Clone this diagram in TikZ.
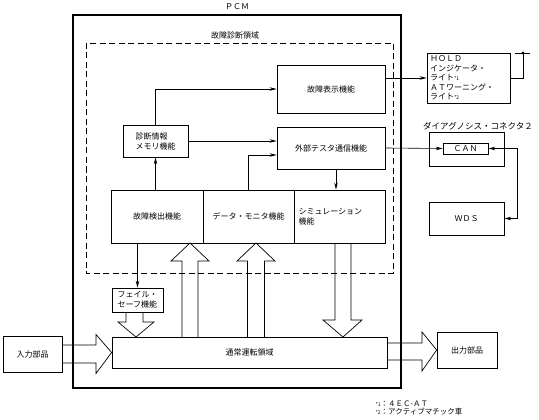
\documentclass[tikz,border=0pt]{standalone}
\usepackage{fontspec}
\setmainfont{Noto Sans CJK JP}
\usetikzlibrary{arrows.meta,calc}

\begin{document}
\begin{tikzpicture}[x=1pt,y=-1pt,
  font=\fontsize{8}{10}\selectfont,
  box/.style={draw,line width=0.7pt,inner sep=2pt},
  arr/.style={line width=0.6pt,-{Stealth[length=7pt,width=3.5pt]}},
  hollow/.style={draw,line width=0.7pt,line join=miter}]
  \useasboundingbox (0,0) rectangle (539,420);

  % PCM and the diagnosis area
  \draw[line width=1.1pt] (73,15) rectangle (401,388);
  \node (pcmlbl) at (237,7) {ＰＣＭ};
  \draw[line width=0.7pt,dash pattern=on 6pt off 3.5pt] (86,43) rectangle (393,273);
  \node (diaglbl) at (235,35) {故障診断領域};

  % function boxes
  \node[box,minimum width=108,minimum height=48] (disp) at (331,89) {故障表示機能};
  \node[box,minimum width=65,minimum height=32,align=left] (mem) at (155.5,141) {診断情報\\メモリ機能};
  \node[box,minimum width=108,minimum height=42] (ext) at (331,148) {外部テスタ通信機能};
  \node[box,minimum width=92,minimum height=53] (det) at (157,216.5) {故障検出機能};
  \node[box,minimum width=91,minimum height=53] (mon) at (248.5,216.5) {データ・モニタ機能};
  \node[box,minimum width=91,minimum height=53,text width=82,align=left] (sim) at (339.5,216.5) {シミュレーション\\機能};
  \node[box,minimum width=51,minimum height=24,align=left,inner sep=1.5pt] (fs) at (137.5,300) {フェイル・\\セーフ機能};
  \node[box,minimum width=275,minimum height=31] (norm) at (249.5,352.5) {通常運転領域};
  \node[box,minimum width=59,minimum height=36] (in) at (32.5,354) {入力部品};
  \node[box,minimum width=60,minimum height=36] (out) at (467,350) {出力部品};

  % outside the PCM
  \node[box,minimum width=83,minimum height=50,text width=77,align=left,inner sep=1.5pt,
        font=\fontsize{8}{9.5}\selectfont] (hold) at (468.5,78)
        {ＨＯＬＤ\\インジケータ・\\ライト{\tiny *1}\\ＡＴワーニング・\\ライト{\tiny *2}};
  \node[box,minimum width=75,minimum height=34] (conn) at (466.5,149) {};
  \node[font=\fontsize{8.5}{10}\selectfont] (connlbl) at (478,126) {ダイアグノシス・コネクタ２};
  \node[box,minimum width=45,minimum height=11,inner sep=0pt] (can) at (465.5,148.5) {ＣＡＮ};
  \node[box,minimum width=75,minimum height=33] (wds) at (466.5,218.5) {ＷＤＳ};
  \node[align=left,anchor=west,font=\fontsize{7.5}{8.5}\selectfont] (notes) at (372,408)
        {{\tiny *1}：４ＥＣ-ＡＴ\\{\tiny *2}：アクティブマチック車};

  % signal lines
  \draw[arr] (mem.north) |- (disp.west);
  \draw[arr] (mem.east) -- (mem.east -| ext.west);
  \draw[arr] (mon.north) |- ($(ext.west)+(0,7)$);
  \draw[arr] ($(ext.south)+(5,0)$) -- ($(ext.south |- sim.north)+(5,0)$);
  \draw[arr] (mem.south |- det.north) -- (mem.south);
  \draw[arr] (fs.north |- det.south) -- (fs.north);
  \draw[arr] (disp.east |- hold.west) -- (hold.west);
  \coordinate (pwr) at (523,53);
  \draw[line width=0.6pt] (hold.east) -| (pwr);
  \draw[line width=0.6pt] ($(pwr)+(-8,0)$) -- ($(pwr)+(7,0)$);
  \fill (pwr) circle (1.6pt);
  \draw[arr] (ext.east) -- (can.west);
  \coordinate (tap) at (517,148.5);
  \draw[arr] (tap) -- (can.east);
  \draw[arr] (tap) |- (wds.east);

  % hollow arrows
  \foreach \cx/\sw in {190/8, 256/8.5}
    \draw[hollow] (\cx-\sw,337) -- (\cx-\sw,261) -- (\cx-19,261) -- (\cx,243)
      -- (\cx+19,261) -- (\cx+\sw,261) -- (\cx+\sw,337);
  \draw[hollow] (335,243) -- (335,320) -- (323,320) -- (343,337) -- (362,320)
    -- (351,320) -- (351,243);
  \draw[hollow] (126,312) -- (126,322) -- (118,322) -- (136,337) -- (154,322)
    -- (143,322) -- (143,312);
  \draw[hollow] (in.east |- 0,345) -- (96,345) -- (96,334.5) -- (norm.west)
    -- (96,373.5) -- (96,363) -- (in.east |- 0,363);
  \draw[hollow] (norm.east |- 0,343) -- (422,343) -- (422,332) -- (out.west)
    -- (422,371) -- (422,360) -- (norm.east |- 0,360);
\end{tikzpicture}
\end{document}
